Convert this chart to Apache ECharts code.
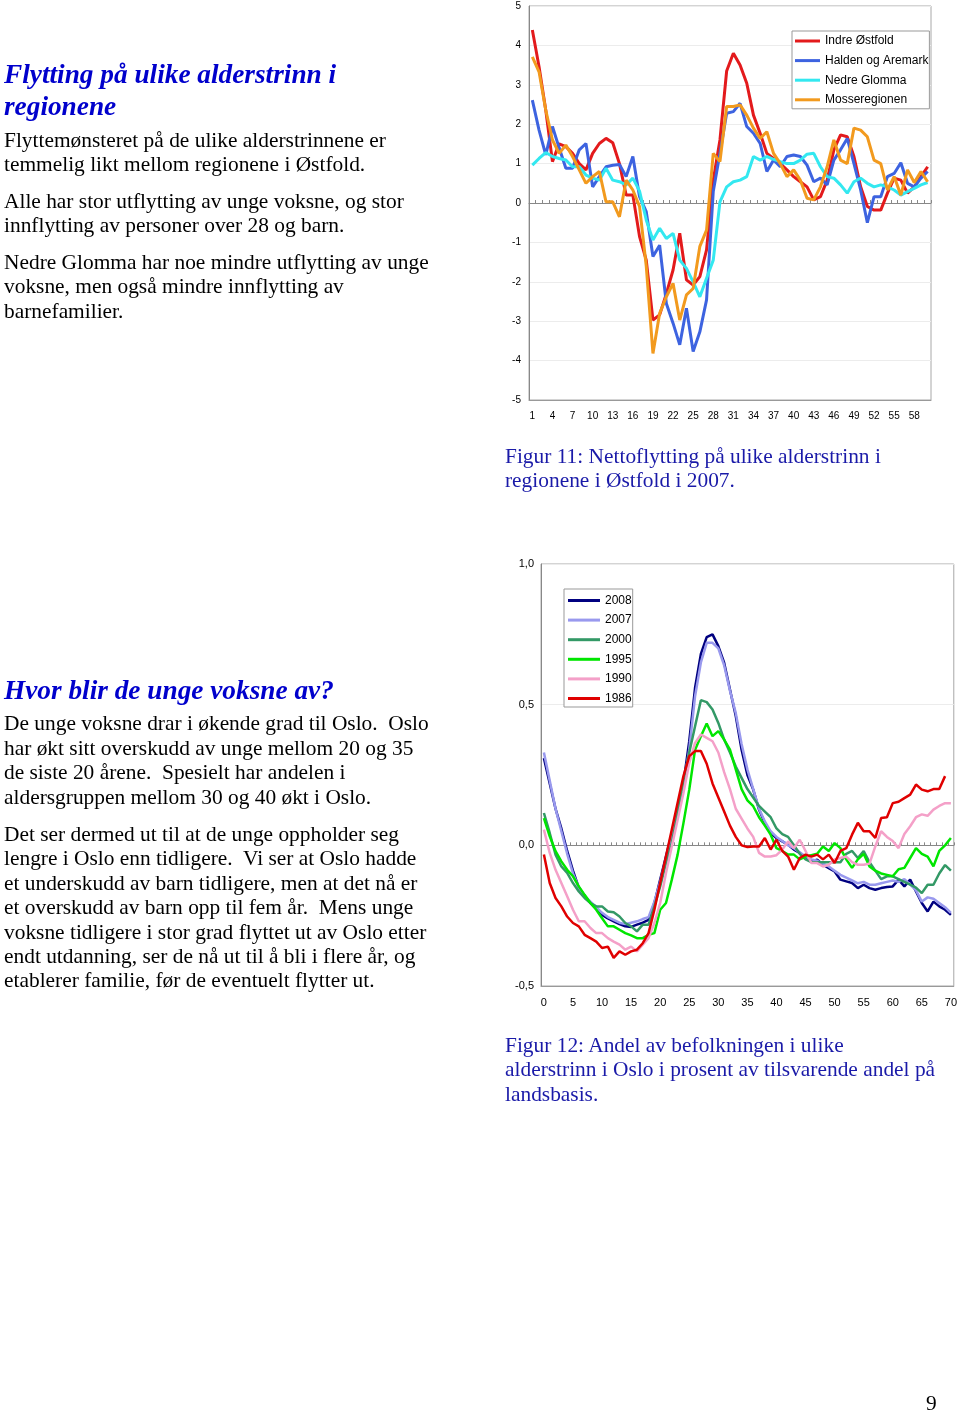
<!DOCTYPE html>
<html><head><meta charset="utf-8">
<script src="https://cdn.jsdelivr.net/npm/echarts@6/dist/echarts.min.js"></script>
<style>
html,body{margin:0;padding:0;background:#fff;}
#page{position:relative;width:960px;height:1412px;overflow:hidden;}
#chart{position:absolute;left:0;top:0;width:960px;height:1412px;}
.t{position:absolute;font-family:"Liberation Serif","Times New Roman",serif;white-space:pre;color:#000;}
.b{font-size:21.4px;line-height:24.5px;}
.h{font-size:27.3px;line-height:32px;font-weight:bold;font-style:italic;color:#0000cc;}
.c{font-size:21.4px;line-height:24.6px;color:#1a1aa8;}
</style></head>
<body><div id="page">
<div id="chart"></div>
<div class="t h" style="left:4px;top:57.5px;">Flytting på ulike alderstrinn i<br>regionene</div>
<div class="t b" style="left:4px;top:127.5px;">Flyttemønsteret på de ulike alderstrinnene er<br>temmelig likt mellom regionene i Østfold.</div>
<div class="t b" style="left:4px;top:188.5px;">Alle har stor utflytting av unge voksne, og stor<br>innflytting av personer over 28 og barn.</div>
<div class="t b" style="left:4px;top:249.5px;">Nedre Glomma har noe mindre utflytting av unge<br>voksne, men også mindre innflytting av<br>barnefamilier.</div>
<div class="t c" style="left:505px;top:443.5px;">Figur 11: Nettoflytting på ulike alderstrinn i<br>regionene i Østfold i 2007.</div>
<div class="t h" style="left:4px;top:673.5px;">Hvor blir de unge voksne av?</div>
<div class="t b" style="left:4px;top:711px;line-height:24.7px;">De unge voksne drar i økende grad til Oslo.  Oslo<br>har økt sitt overskudd av unge mellom 20 og 35<br>de siste 20 årene.  Spesielt har andelen i<br>aldersgruppen mellom 30 og 40 økt i Oslo.</div>
<div class="t b" style="left:4px;top:822px;line-height:24.4px;">Det ser dermed ut til at de unge oppholder seg<br>lengre i Oslo enn tidligere.  Vi ser at Oslo hadde<br>et underskudd av barn tidligere, men at det nå er<br>et overskudd av barn opp til fem år.  Mens unge<br>voksne tidligere i stor grad flyttet ut av Oslo etter<br>endt utdanning, ser de nå ut til å bli i flere år, og<br>etablerer familie, før de eventuelt flytter ut.</div>
<div class="t c" style="left:505px;top:1032.5px;">Figur 12: Andel av befolkningen i ulike<br>alderstrinn i Oslo i prosent av tilsvarende andel på<br>landsbasis.</div>
<div class="t" style="left:926px;top:1391px;font-size:21.4px;line-height:24px;">9</div>
</div>
<script>
// ---- Figure 11 data (net migration by age step, 2007) ----
var topCategories = [];
for (var i = 1; i <= 60; i++) topCategories.push(String(i));
var indreOstfold = [4.39,3.46,2.36,1.05,1.5,1.43,1.26,1.0,0.84,1.26,1.51,1.64,1.53,1.0,0.2,0.2,-0.85,-1.45,-2.97,-2.84,-2.3,-1.7,-0.77,-1.95,-2.08,-1.87,-1.19,0.58,1.6,3.35,3.8,3.5,3.04,2.23,1.77,1.26,1.13,1.0,0.84,0.67,0.54,0.41,0.08,0.16,0.58,1.35,1.73,1.68,1.18,0.41,-0.09,-0.18,-0.18,0.25,0.63,0.58,0.25,0.41,0.67,0.92];
var haldenAremark = [2.61,1.85,1.22,1.94,1.4,0.88,0.88,1.35,1.51,0.41,0.67,0.92,0.96,0.98,0.67,1.18,0.16,-0.22,-1.36,-1.07,-2.55,-3.05,-3.6,-2.67,-3.77,-3.27,-2.46,0.29,1.26,2.28,2.32,2.53,1.94,1.77,1.51,0.8,1.09,0.92,1.18,1.22,1.18,0.96,0.54,0.63,0.46,1.09,1.35,1.64,1.0,0.33,-0.5,0.16,0.16,0.67,0.75,1.02,0.5,0.41,0.63,0.8];
var nedreGlomma = [0.96,1.13,1.28,1.18,1.13,1.09,0.92,0.92,0.71,0.63,0.58,0.88,0.58,0.54,0.46,0.63,0.3,-0.43,-0.94,-0.64,-0.9,-0.77,-1.45,-1.66,-2.0,-2.38,-1.91,-1.45,0.03,0.41,0.54,0.58,0.67,1.18,1.09,1.18,1.11,1.05,1.0,1.0,1.09,1.24,1.26,0.92,0.67,0.63,0.46,0.25,0.54,0.63,0.5,0.41,0.46,0.41,0.33,0.2,0.29,0.37,0.46,0.52];
var mosseregionen = [3.71,3.33,2.36,1.6,1.26,1.47,1.18,0.84,0.5,0.67,0.8,0.03,0.03,-0.35,0.58,0.33,-0.09,-1.6,-3.82,-2.8,-2.38,-2.04,-2.97,-2.33,-2.17,-1.1,-0.69,1.26,1.05,2.45,2.45,2.49,2.23,1.9,1.64,1.81,1.26,1.0,0.67,0.84,0.58,0.12,0.08,0.41,0.92,1.6,1.09,1.0,1.9,1.85,1.68,1.09,1.0,0.33,0.67,0.2,0.84,0.52,0.8,0.54];
var topYTicks = [-5,-4,-3,-2,-1,0,1,2,3,4,5];

// ---- Figure 12 data (Oslo share relative to national, by age 0-70) ----
var ages = [];
for (var a = 0; a <= 70; a++) ages.push(String(a));
var y2008 = [0.31,0.22,0.13,0.06,-0.02,-0.09,-0.15,-0.18,-0.205,-0.225,-0.247,-0.26,-0.27,-0.28,-0.288,-0.29,-0.282,-0.275,-0.265,-0.205,-0.122,-0.039,0.044,0.127,0.222,0.37,0.56,0.68,0.74,0.75,0.708,0.649,0.554,0.46,0.34,0.25,0.198,0.127,0.079,0.044,0.026,0.014,0.002,-0.015,-0.027,-0.042,-0.057,-0.051,-0.069,-0.081,-0.093,-0.122,-0.128,-0.134,-0.152,-0.14,-0.152,-0.158,-0.152,-0.148,-0.146,-0.122,-0.146,-0.122,-0.164,-0.205,-0.235,-0.2,-0.217,-0.229,-0.247];
var y2007 = [0.33,0.23,0.13,0.05,-0.03,-0.1,-0.15,-0.18,-0.2,-0.22,-0.24,-0.255,-0.265,-0.275,-0.28,-0.275,-0.27,-0.262,-0.255,-0.2,-0.13,-0.05,0.03,0.12,0.21,0.34,0.53,0.65,0.72,0.72,0.7,0.64,0.55,0.47,0.36,0.27,0.2,0.13,0.085,0.05,0.03,0.015,0.0,-0.01,-0.025,-0.04,-0.05,-0.055,-0.065,-0.075,-0.09,-0.105,-0.115,-0.125,-0.135,-0.13,-0.14,-0.14,-0.135,-0.13,-0.125,-0.13,-0.12,-0.14,-0.16,-0.2,-0.185,-0.19,-0.205,-0.22,-0.24];
var y2000 = [0.115,0.044,-0.033,-0.075,-0.098,-0.134,-0.164,-0.187,-0.205,-0.217,-0.217,-0.235,-0.238,-0.253,-0.276,-0.288,-0.306,-0.282,-0.282,-0.217,-0.146,-0.063,0.008,0.115,0.23,0.33,0.423,0.516,0.509,0.483,0.435,0.376,0.33,0.28,0.24,0.2,0.17,0.14,0.12,0.1,0.06,0.04,0.03,0.0,-0.03,-0.05,-0.06,-0.06,-0.06,-0.06,-0.06,-0.06,-0.03,-0.02,-0.045,-0.02,-0.06,-0.09,-0.12,-0.11,-0.11,-0.12,-0.13,-0.14,-0.15,-0.17,-0.14,-0.14,-0.1,-0.07,-0.09];
var y1995 = [0.097,0.032,-0.021,-0.057,-0.087,-0.11,-0.146,-0.176,-0.205,-0.229,-0.259,-0.288,-0.288,-0.3,-0.312,-0.32,-0.33,-0.33,-0.318,-0.312,-0.229,-0.205,-0.122,-0.033,0.079,0.198,0.34,0.388,0.433,0.388,0.406,0.376,0.34,0.27,0.2,0.16,0.139,0.1,0.07,0.038,-0.01,-0.02,-0.033,-0.033,-0.05,-0.04,-0.035,-0.03,-0.004,-0.02,0.008,-0.01,-0.05,-0.08,-0.05,-0.03,-0.075,-0.09,-0.1,-0.105,-0.11,-0.085,-0.08,-0.045,-0.01,-0.03,-0.04,-0.075,-0.02,0.0,0.026];
var y1990 = [0.056,-0.027,-0.087,-0.134,-0.181,-0.229,-0.27,-0.27,-0.294,-0.312,-0.312,-0.33,-0.342,-0.353,-0.371,-0.36,-0.377,-0.353,-0.33,-0.276,-0.205,-0.098,-0.004,0.091,0.186,0.293,0.364,0.394,0.382,0.37,0.33,0.26,0.2,0.13,0.095,0.06,0.03,-0.027,-0.04,-0.04,-0.035,-0.015,0.014,-0.01,0.02,-0.02,-0.063,-0.063,-0.075,-0.069,-0.05,-0.045,-0.04,-0.06,-0.069,-0.069,-0.065,-0.004,0.05,0.03,0.015,-0.01,0.04,0.068,0.1,0.11,0.105,0.127,0.14,0.15,0.15];
var y1986 = [-0.033,-0.134,-0.187,-0.217,-0.253,-0.276,-0.288,-0.318,-0.33,-0.342,-0.365,-0.36,-0.4,-0.377,-0.389,-0.377,-0.371,-0.348,-0.312,-0.229,-0.134,-0.039,0.056,0.151,0.246,0.317,0.335,0.335,0.29,0.22,0.17,0.12,0.07,0.03,0.0,-0.006,-0.004,-0.004,0.026,-0.015,0.02,-0.02,-0.04,-0.087,-0.045,-0.033,-0.04,-0.033,-0.05,-0.033,-0.063,-0.02,-0.01,0.038,0.08,0.05,0.05,0.026,0.097,0.1,0.15,0.155,0.168,0.18,0.216,0.198,0.192,0.2,0.2,0.246];
var bottomYTicks = [-0.5,0,0.5,1.0];

var sans = '"Liberation Sans", Arial, sans-serif';
var chart = echarts.init(document.getElementById('chart'), null, {renderer:'canvas'});

function lineSeries(name, data, color, xi, yi, w) {
  return {type:'line', name:name, data:data, xAxisIndex:xi, yAxisIndex:yi,
    symbol:'none', lineStyle:{color:color, width:w}, itemStyle:{color:color},
    emphasis:{disabled:true}, animation:false, z:3};
}

var option = {
  animation:false,
  backgroundColor:'#fff',
  grid:[
    {left:529, top:6, width:402, height:394, show:true, borderColor:'#a8a8a8', borderWidth:1, backgroundColor:'transparent'},
    {left:541, top:564, width:413.5, height:422, show:true, borderColor:'#a8a8a8', borderWidth:1, backgroundColor:'transparent'}
  ],
  legend:[
    {left:792, top:31, orient:'vertical', icon:'rect', itemWidth:25, itemHeight:3, itemGap:5.6,
     padding:[3,1,2,3], borderColor:'#999', borderWidth:1, backgroundColor:'#fff',
     textStyle:{fontFamily:sans, fontSize:12, color:'#000', lineHeight:14},
     data:['Indre Østfold','Halden og Aremark','Nedre Glomma','Mosseregionen'], selectedMode:false},
    {left:564, top:589, orient:'vertical', icon:'rect', itemWidth:32, itemHeight:3, itemGap:5.6,
     padding:[4.5,1,1.5,4], borderColor:'#999', borderWidth:1, backgroundColor:'#fff',
     textStyle:{fontFamily:sans, fontSize:12, color:'#000', lineHeight:14},
     data:['2008','2007','2000','1995','1990','1986'], selectedMode:false}
  ],
  xAxis:[
    {type:'category', gridIndex:0, data:topCategories, boundaryGap:true,
     axisLine:{show:true, onZero:false, lineStyle:{color:'#999'}}, axisTick:{show:false},
     axisLabel:{interval:2, fontFamily:sans, fontSize:10, color:'#000', margin:11}, splitLine:{show:false}},
    {type:'category', gridIndex:0, data:topCategories, boundaryGap:true,
     axisLine:{show:true, onZero:true, lineStyle:{color:'#888'}},
     axisTick:{show:true, interval:0, length:3, lineStyle:{color:'#888'}},
     axisLabel:{show:false}, splitLine:{show:false}},
    {type:'category', gridIndex:1, data:ages, boundaryGap:true,
     axisLine:{show:true, onZero:false, lineStyle:{color:'#999'}}, axisTick:{show:false},
     axisLabel:{interval:4, fontFamily:sans, fontSize:11, color:'#000', margin:11}, splitLine:{show:false}},
    {type:'category', gridIndex:1, data:ages, boundaryGap:true,
     axisLine:{show:true, onZero:true, lineStyle:{color:'#888'}},
     axisTick:{show:true, interval:0, length:3, lineStyle:{color:'#888'}},
     axisLabel:{show:false}, splitLine:{show:false}}
  ],
  yAxis:[
    {type:'value', gridIndex:0, min:topYTicks[0], max:topYTicks[topYTicks.length-1], interval:1,
     axisLine:{show:true, lineStyle:{color:'#888'}}, axisTick:{show:false},
     axisLabel:{fontFamily:sans, fontSize:10, color:'#000', margin:8},
     splitLine:{show:true, lineStyle:{color:'#ececec', width:1}}},
    {type:'value', gridIndex:1, min:bottomYTicks[0], max:bottomYTicks[bottomYTicks.length-1], interval:0.5,
     axisLine:{show:true, lineStyle:{color:'#888'}}, axisTick:{show:false},
     axisLabel:{fontFamily:sans, fontSize:11, color:'#000', margin:7,
       formatter:function(v){return v.toFixed(1).replace('.', ',');}},
     splitLine:{show:true, lineStyle:{color:'#ececec', width:1}}}
  ],
  series:[
    lineSeries('Indre Østfold', indreOstfold, '#e31a1c', 0, 0, 3),
    lineSeries('Halden og Aremark', haldenAremark, '#3d63e0', 0, 0, 3),
    lineSeries('Nedre Glomma', nedreGlomma, '#33e8f0', 0, 0, 3),
    lineSeries('Mosseregionen', mosseregionen, '#f29a1e', 0, 0, 3),
    lineSeries('2008', y2008, '#000080', 2, 1, 2.5),
    lineSeries('2007', y2007, '#9999ee', 2, 1, 2.5),
    lineSeries('2000', y2000, '#339966', 2, 1, 2.5),
    lineSeries('1995', y1995, '#00e600', 2, 1, 2.5),
    lineSeries('1990', y1990, '#f4a0c8', 2, 1, 2.5),
    lineSeries('1986', y1986, '#e00000', 2, 1, 2.5)
  ]
};
chart.setOption(option);
</script>
</body></html>
